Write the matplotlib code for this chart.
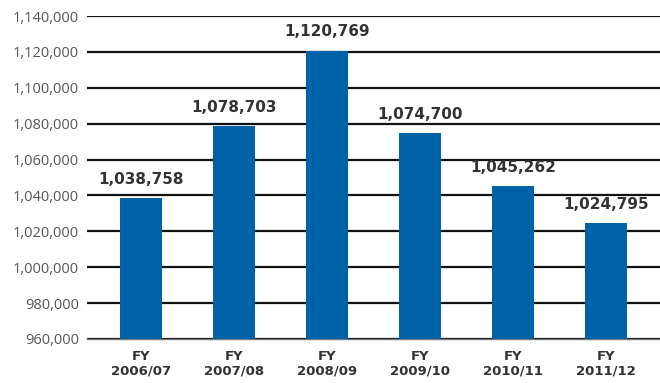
import matplotlib
matplotlib.use("Agg")
import matplotlib.pyplot as plt
from matplotlib.ticker import FuncFormatter

plt.rcParams['font.family'] = ['DejaVu Sans']

categories = ["FY\n2006/07", "FY\n2007/08", "FY\n2008/09", "FY\n2009/10", "FY\n2010/11", "FY\n2011/12"]
values = [1038758, 1078703, 1120769, 1074700, 1045262, 1024795]
yticks = list(range(960000, 1140001, 20000))

fig = plt.figure(figsize=(6.6, 3.83), dpi=100)
ax = fig.add_axes([0.132, 0.115, 0.868, 0.843])

x = list(range(len(values)))
ax.bar(x, values, width=0.45, color="#0062a6", zorder=3)
for xi, v in zip(x, values):
    ax.annotate(f"{v:,}", (xi, v), xytext=(0, 8), textcoords="offset points",
                ha="center", va="bottom", fontsize=11, fontweight="bold",
                color="#333333")

ax.set_ylim(960000, 1140000)
ax.set_xlim(-0.58, 5.58)
ax.set_yticks(yticks)
ax.yaxis.set_major_formatter(FuncFormatter(lambda v, p: f"{int(v):,}"))
ax.grid(axis="y", color="#111111", linewidth=1.6, zorder=0)
ax.set_xticks(x)
ax.set_xticklabels(categories, fontsize=9.5, fontweight="bold", color="#333333", linespacing=1.1)
ax.tick_params(axis="both", length=0)
ax.tick_params(axis="y", pad=6)
for lbl in ax.get_yticklabels():
    lbl.set_family(["Open Sans", "DejaVu Sans"])
    lbl.set_fontsize(10.5)
    lbl.set_color("#555555")
ax.tick_params(axis="x", pad=8)
for s in ["top", "right", "left"]:
    ax.spines[s].set_visible(False)
ax.spines["bottom"].set_color("#777777")
ax.spines["bottom"].set_linewidth(1.0)

fig.savefig("out.png", dpi=100)
